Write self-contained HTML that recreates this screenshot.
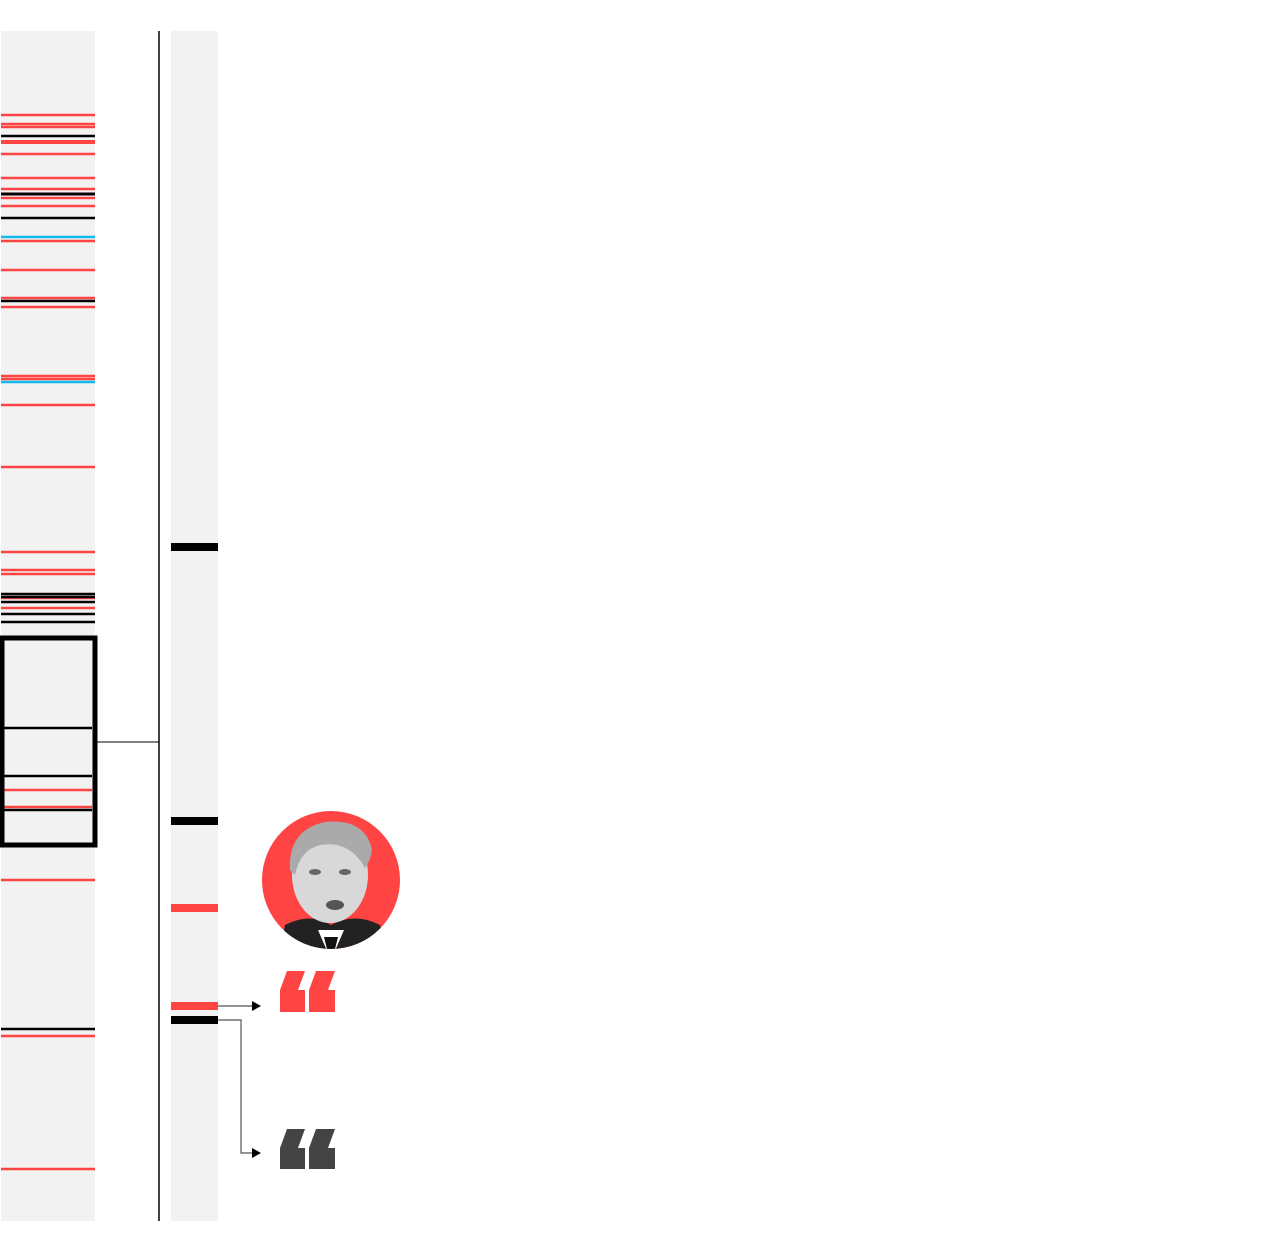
<!DOCTYPE html><html><head><style>body{margin:0;background:#fff}</style></head><body>
<svg width="1286" height="1252" xmlns="http://www.w3.org/2000/svg">
<rect x="1" y="31" width="94" height="1190" fill="#f2f2f2"/>
<rect x="171" y="31" width="47" height="1190" fill="#f2f2f2"/>
<g stroke-width="2.5">
<g stroke="#ff4444">
<line x1="1" x2="95" y1="115" y2="115"/><line x1="1" x2="95" y1="124" y2="124"/><line x1="1" x2="95" y1="127" y2="127"/>
<line x1="1" x2="95" y1="142" y2="142" stroke-width="4"/><line x1="1" x2="95" y1="154" y2="154"/><line x1="1" x2="95" y1="178" y2="178"/>
<line x1="1" x2="95" y1="189" y2="189"/><line x1="1" x2="95" y1="198" y2="198"/><line x1="1" x2="95" y1="206" y2="206"/>
<line x1="1" x2="95" y1="241" y2="241"/><line x1="1" x2="95" y1="270" y2="270"/><line x1="1" x2="95" y1="298" y2="298"/>
<line x1="1" x2="95" y1="307" y2="307"/><line x1="1" x2="95" y1="376" y2="376"/><line x1="1" x2="95" y1="379" y2="379"/>
<line x1="1" x2="95" y1="405" y2="405"/><line x1="1" x2="95" y1="467" y2="467"/><line x1="1" x2="95" y1="552" y2="552"/>
<line x1="1" x2="95" y1="570" y2="570"/><line x1="1" x2="95" y1="574" y2="574"/><line x1="1" x2="95" y1="598" y2="598"/>
<line x1="1" x2="95" y1="608" y2="608"/><line x1="4" x2="92" y1="790" y2="790"/><line x1="4" x2="92" y1="807" y2="807"/>
<line x1="1" x2="95" y1="880" y2="880"/><line x1="1" x2="95" y1="1036" y2="1036"/><line x1="1" x2="95" y1="1169" y2="1169"/>
</g>
<g stroke="#000">
<line x1="1" x2="95" y1="136" y2="136"/><line x1="1" x2="95" y1="194" y2="194" stroke-width="3"/><line x1="1" x2="95" y1="218" y2="218"/>
<line x1="1" x2="95" y1="301" y2="301"/><line x1="1" x2="95" y1="594" y2="594"/><line x1="1" x2="95" y1="597" y2="597"/>
<line x1="1" x2="95" y1="602" y2="602"/><line x1="1" x2="95" y1="614" y2="614"/><line x1="1" x2="95" y1="622" y2="622"/>
<line x1="4" x2="92" y1="728" y2="728"/><line x1="4" x2="92" y1="776" y2="776"/><line x1="4" x2="92" y1="810" y2="810"/>
<line x1="1" x2="95" y1="1029" y2="1029"/>
</g>
<g stroke="#11bbee"><line x1="1" x2="95" y1="237" y2="237"/><line x1="1" x2="95" y1="382" y2="382"/></g>
</g>
<rect x="2" y="638" width="93" height="207" fill="none" stroke="#000" stroke-width="5"/>
<line x1="159" y1="31" x2="159" y2="1221" stroke="#000" stroke-width="1.5"/>
<line x1="97" y1="742" x2="159" y2="742" stroke="#000" stroke-width="1"/>
<rect x="171" y="543" width="47" height="8" fill="#000"/>
<rect x="171" y="817" width="47" height="8" fill="#000"/>
<rect x="171" y="904" width="47" height="8" fill="#ff4444"/>
<rect x="171" y="1002" width="47" height="8" fill="#ff4444"/>
<rect x="171" y="1016" width="47" height="8" fill="#000"/>
<path d="M218 1006H252" stroke="#555" stroke-width="1.2"/><path d="M252 1001L261 1006L252 1011Z" fill="#000"/>
<path d="M218 1020H241V1153H252" stroke="#555" stroke-width="1.2" fill="none"/><path d="M252 1148L261 1153L252 1158Z" fill="#000"/>
<circle cx="331" cy="880" r="69" fill="#ff4444"/>
<clipPath id="c"><circle cx="331" cy="880" r="69"/></clipPath>
<g clip-path="url(#c)">
<path d="M278 960L285 925Q310 912 331 925Q355 912 380 925L388 960Z" fill="#222"/>
<path d="M318 930L331 960L344 930Z" fill="#fff"/>
<path d="M324 937h14l-3 12h-8z" fill="#111"/>
<ellipse cx="330" cy="875" rx="38" ry="48" fill="#d8d8d8"/>
<path d="M290 870Q288 830 325 822Q365 818 372 850Q370 862 365 868Q350 840 320 845Q300 850 295 875Z" fill="#aaa"/>
<ellipse cx="315" cy="872" rx="6" ry="3" fill="#666"/><ellipse cx="345" cy="872" rx="6" ry="3" fill="#666"/>
<ellipse cx="335" cy="905" rx="9" ry="5" fill="#555"/>
</g>
<g fill="#ff4444"><path d="M287 971H305L298 990H305V1012H280V990Z"/><path d="M316 971H335L328 990H335V1012H309V990Z"/></g>
<g fill="#444"><path d="M287 1129H305L298 1148H305V1169H280V1148Z"/><path d="M316 1129H335L328 1148H335V1169H309V1148Z"/></g>
</svg></body></html>
